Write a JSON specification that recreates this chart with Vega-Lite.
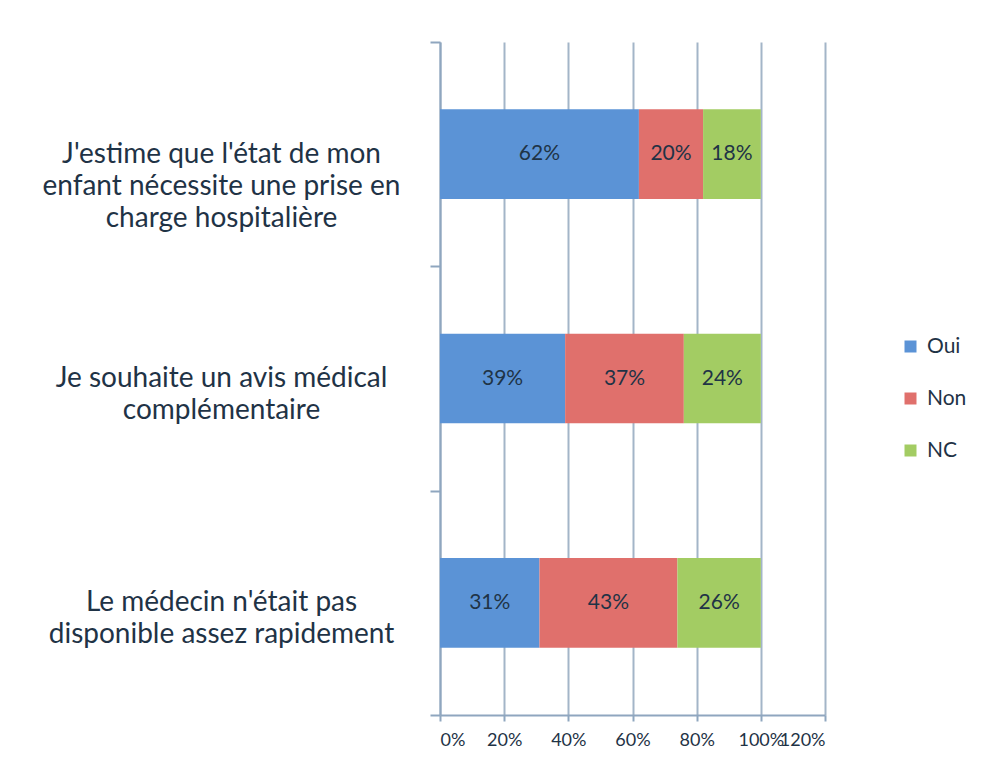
{
  "$schema": "https://vega.github.io/schema/vega-lite/v6.json",
  "width": 385,
  "height": 673,
  "autosize": {"type": "none"},
  "padding": {"left": 440, "top": 42, "right": 166, "bottom": 68},
  "background": "white",
  "config": {"view": {"stroke": null}, "font": "Lato"},
  "data": {
    "values": [
      {"q": "J'estime que l'état de mon|enfant nécessite une prise en|charge hospitalière", "s": "Oui", "v": 0.62},
      {"q": "J'estime que l'état de mon|enfant nécessite une prise en|charge hospitalière", "s": "Non", "v": 0.20},
      {"q": "J'estime que l'état de mon|enfant nécessite une prise en|charge hospitalière", "s": "NC", "v": 0.18},
      {"q": "Je souhaite un avis médical|complémentaire", "s": "Oui", "v": 0.39},
      {"q": "Je souhaite un avis médical|complémentaire", "s": "Non", "v": 0.37},
      {"q": "Je souhaite un avis médical|complémentaire", "s": "NC", "v": 0.24},
      {"q": "Le médecin n'était pas|disponible assez rapidement", "s": "Oui", "v": 0.31},
      {"q": "Le médecin n'était pas|disponible assez rapidement", "s": "Non", "v": 0.43},
      {"q": "Le médecin n'était pas|disponible assez rapidement", "s": "NC", "v": 0.26}
    ]
  },
  "transform": [
    {"stack": "v", "groupby": ["q"], "sort": [{"field": "s", "order": "descending"}], "as": ["v0", "v1"]},
    {"calculate": "(datum.v0 + datum.v1) / 2", "as": "mid"}
  ],
  "encoding": {
    "y": {
      "field": "q",
      "type": "nominal",
      "sort": null,
      "scale": {"paddingInner": 0, "paddingOuter": 0},
      "axis": {
        "title": null,
        "labelExpr": "split(datum.label, '|')",
        "labelAlign": "center",
        "labelBaseline": "middle",
        "labelPadding": 209,
        "labelFontSize": 28,
        "labelLineHeight": 32,
        "labelColor": "#1F3346",
        "labelLimit": 0,
        "tickBand": "extent",
        "tickSize": 10,
        "tickColor": "#8FA6BF",
        "tickWidth": 2,
        "domainColor": "#8FA6BF",
        "domainWidth": 2,
        "grid": false
      }
    }
  },
  "layer": [
    {
      "mark": {"type": "bar", "height": {"band": 0.4}},
      "encoding": {
        "x": {
          "field": "v0",
          "type": "quantitative",
          "scale": {"domain": [0, 1.2]},
          "axis": {
            "title": null,
            "format": ".0%",
            "values": [0, 0.2, 0.4, 0.6, 0.8, 1.0, 1.2],
            "labelOverlap": false,
            "grid": true,
            "gridColor": "#A3B5C8",
            "gridWidth": 2,
            "domainColor": "#8FA6BF",
            "domainWidth": 2,
            "tickColor": "#8FA6BF",
            "tickWidth": 2,
            "tickSize": 6,
            "labelFontSize": 18,
            "labelColor": "#1F3346",
            "labelPadding": 10
          }
        },
        "x2": {"field": "v1"},
        "color": {
          "field": "s",
          "type": "nominal",
          "scale": {"domain": ["Oui", "Non", "NC"], "range": ["#5B93D6", "#E0706C", "#A3CC63"]},
          "legend": {
            "title": null,
            "orient": "none",
            "legendX": 460,
            "legendY": 294,
            "symbolType": "square",
            "symbolSize": 144,
            "symbolStrokeWidth": 0,
            "labelFontSize": 21,
            "labelColor": "#1F3346",
            "rowPadding": 30,
            "labelOffset": 6
          }
        }
      }
    },
    {
      "mark": {"type": "text", "fontSize": 21, "color": "#1F3346"},
      "encoding": {
        "x": {"field": "mid", "type": "quantitative"},
        "text": {"field": "v", "type": "quantitative", "format": ".0%"}
      }
    }
  ]
}
